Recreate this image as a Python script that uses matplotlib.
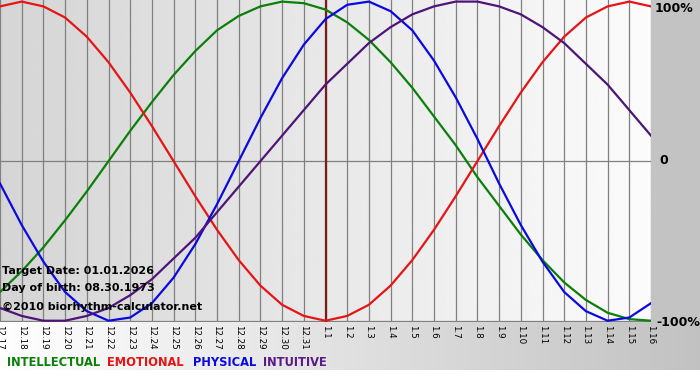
import numpy as np
import matplotlib
matplotlib.use("Agg")
import matplotlib.pyplot as plt

# days shown on the x axis
dates = ["12.17", "12.18", "12.19", "12.20", "12.21", "12.22", "12.23", "12.24",
         "12.25", "12.26", "12.27", "12.28", "12.29", "12.30", "12.31",
         "1.1", "1.2", "1.3", "1.4", "1.5", "1.6", "1.7", "1.8", "1.9", "1.10",
         "1.11", "1.12", "1.13", "1.14", "1.15", "1.16"]

# values in percent, one per day
intellectual = [-82, -69, -54, -37, -19, 0, 19, 37, 54, 69, 82, 91, 97, 100, 99,
                95, 87, 76, 62, 46, 28, 10, -10, -28, -46, -62, -76, -87, -95, -99, -100]
emotional = [97, 100, 97, 90, 78, 62, 43, 22, 0, -22, -43, -62, -78, -90, -97,
             -100, -97, -90, -78, -62, -43, -22, 0, 22, 43, 62, 78, 90, 97, 100, 97]
physical = [-14, -40, -63, -82, -94, -100, -98, -89, -73, -52, -27, 0, 27, 52, 73,
            89, 98, 100, 94, 82, 63, 40, 14, -14, -40, -63, -82, -94, -100, -98, -89]
intuitive = [-92, -97, -100, -100, -97, -92, -84, -74, -61, -48, -32, -16, 0, 16, 32,
             48, 61, 74, 84, 92, 97, 100, 100, 97, 92, 84, 74, 61, 48, 32, 16]

target_day = "1.1"
info_lines = ["Target Date: 01.01.2026", "Day of birth: 08.30.1973",
              "\u00a92010 biorhythm-calculator.net"]

W, H = 700, 380
fig = plt.figure(figsize=(W / 100, H / 100), dpi=100)

# background: gray strip right, gradient strip below
bg = fig.add_axes([0, 0, 1, 1], zorder=0)
img = np.ones((H, W, 3))
ramp = np.linspace(1.0, 0.76, W)
img[:370, :, :] = ramp[None, :, None]
img[:322, 651:, :] = 0.765
bg.imshow(img, aspect="auto", extent=[0, W, H, 0], interpolation="bilinear")
bg.set_xlim(0, W)
bg.set_ylim(H, 0)
bg.axis("off")

ax = fig.add_axes([0, 1 - 322 / H, 651 / W, 322 / H], zorder=1)
x = np.arange(len(dates))
ymin, ymax = -1.008, 1.01
ax.set_xlim(0, len(dates) - 1)
ax.set_ylim(ymin, ymax)

grad = np.linspace(0.835, 0.985, 256)[None, :]
ax.imshow(grad, extent=[0, len(dates) - 1, ymin, ymax], aspect="auto",
          cmap="gray", vmin=0, vmax=1, zorder=0)

for xi in x:
    ax.axvline(xi, color="#808080", lw=0.9, zorder=1)
ax.axhline(0, color="#808080", lw=0.9, zorder=1)
ax.axhline(-1, color="#808080", lw=0.9, zorder=1)
ax.axvline(dates.index(target_day), color="#7a1c1c", lw=1.6, zorder=2)

ax.plot(x, np.array(intellectual) / 100, color="#0a800a", lw=1.6, zorder=3)
ax.plot(x, np.array(emotional) / 100, color="#e51515", lw=1.6, zorder=3)
ax.plot(x, np.array(physical) / 100, color="#0a0ae0", lw=1.6, zorder=3)
ax.plot(x, np.array(intuitive) / 100, color="#4f1477", lw=1.6, zorder=3)

for s in ax.spines.values():
    s.set_visible(False)
ax.set_yticks([])
ax.set_xticks(x, dates, rotation=270, fontsize=6.3)
ax.tick_params(axis="x", length=0, pad=2)

for i, line in enumerate(info_lines):
    ax.text(2 / 651, 1 - [271, 288, 307][i] / 322, line, transform=ax.transAxes,
            fontsize=8, fontweight="bold", va="center", ha="left", zorder=5)

# right side labels
for txt, xp, yp in [("100%", 655, 8), ("0", 659, 161), ("-100%", 656, 322)]:
    fig.text(xp / W, 1 - yp / H, txt, fontsize=9, fontweight="bold",
             va="center", ha="left", zorder=5)

# legend words
for txt, col, xp in [("INTELLECTUAL", "#0a800a", 7), ("EMOTIONAL", "#e51515", 107),
                     ("PHYSICAL", "#0a0ae0", 193), ("INTUITIVE", "#5a1a8a", 263)]:
    fig.text(xp / W, 1 - 362 / H, txt, color=col, fontsize=8.3, fontweight="bold",
             va="center", ha="left", zorder=5)

fig.savefig("out.png", dpi=100)
